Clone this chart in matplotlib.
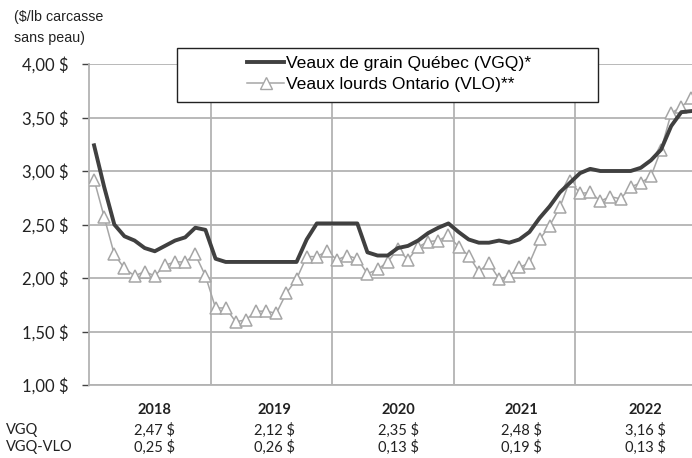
import numpy as np
import matplotlib
matplotlib.use('Agg')
from matplotlib import pyplot as plt
from matplotlib.lines import Line2D
from matplotlib.patches import Rectangle

# prix mensuels, janv. 2018 a dec. 2022 ($/lb carcasse sans peau)
vgq = [3.24, 2.85, 2.50, 2.39, 2.35, 2.28, 2.25, 2.30, 2.35, 2.38, 2.47, 2.45,
       2.18, 2.15, 2.15, 2.15, 2.15, 2.15, 2.15, 2.15, 2.15, 2.36, 2.51, 2.51,
       2.51, 2.51, 2.51, 2.24, 2.21, 2.21, 2.28, 2.30, 2.35, 2.42, 2.47, 2.51,
       2.43, 2.36, 2.33, 2.33, 2.35, 2.33, 2.36, 2.43, 2.56, 2.67, 2.80, 2.89,
       2.98, 3.02, 3.00, 3.00, 3.00, 3.00, 3.03, 3.10, 3.20, 3.42, 3.55, 3.56]
vlo = [2.92, 2.57, 2.22, 2.09, 2.02, 2.06, 2.02, 2.12, 2.15, 2.15, 2.22, 2.02,
       1.72, 1.72, 1.59, 1.61, 1.69, 1.69, 1.67, 1.86, 1.99, 2.20, 2.20, 2.25,
       2.17, 2.21, 2.18, 2.04, 2.08, 2.15, 2.27, 2.17, 2.29, 2.34, 2.35, 2.40,
       2.29, 2.21, 2.06, 2.14, 1.99, 2.02, 2.10, 2.14, 2.36, 2.49, 2.66, 2.91,
       2.79, 2.80, 2.72, 2.76, 2.74, 2.85, 2.89, 2.95, 3.20, 3.54, 3.60, 3.68]
annees = ['2018', '2019', '2020', '2021', '2022']
moy_vgq = ['2,47 $', '2,12 $', '2,35 $', '2,48 $', '3,16 $']
ecart = ['0,25 $', '0,26 $', '0,13 $', '0,19 $', '0,13 $']
yticks = [1.0, 1.5, 2.0, 2.5, 3.0, 3.5, 4.0]

W, H = 692, 458
grid_c = '#b3b3b3'
fig = plt.figure(figsize=(W/100, H/100), dpi=100)
ax = fig.add_axes([89/W, 1-385/H, (W-89)/W, (385-64)/H])
x = np.arange(len(vgq))
ax.set_xlim(-0.5, -0.5 + (W-89)/10.125)
ax.set_ylim(1, 4)

ax.set_yticks(yticks)
ax.set_yticklabels([('%.2f $' % v).replace('.', ',') for v in yticks],
                   fontfamily='Lato', fontsize=12, color='#222222')
ax.set_xticks([])
ax.tick_params(axis='y', length=5, width=1, color='#444444', pad=10)
ax.yaxis.grid(True, color=grid_c, lw=1.3)
ax.set_axisbelow(True)
for b in [11.5, 23.5, 35.5, 47.5]:
    ax.axvline(b, color=grid_c, lw=1.3, zorder=0.5)
for s in ['top', 'right']:
    ax.spines[s].set_visible(False)
ax.spines['left'].set_color(grid_c)
ax.spines['left'].set_linewidth(1.3)
ax.spines['bottom'].set_color(grid_c)
ax.spines['bottom'].set_linewidth(1.3)

ax.plot(x, vlo, color='#a6a6a6', lw=1.1, marker='^', markersize=8,
        markerfacecolor='white', markeredgecolor='#a6a6a6', markeredgewidth=1.1, zorder=3)
ax.plot(x, vgq, color='#404040', lw=2.8, zorder=4, solid_joinstyle='round')

fig.text(14/W, 1-17/H, '($/lb carcasse', fontfamily='Liberation Sans', fontsize=10.3,
         va='center', ha='left', color='#222222')
fig.text(14/W, 1-38/H, 'sans peau)', fontfamily='Liberation Sans', fontsize=10.3,
         va='center', ha='left', color='#222222')

# legende encadree
fig.patches.append(Rectangle((177/W, 1-102/H), (598-177)/W, (102-48)/H,
                             transform=fig.transFigure, facecolor='white',
                             edgecolor='#222222', lw=1.0, zorder=5))
handles = [Line2D([], [], color='#404040', lw=2.8),
           Line2D([], [], color='#a6a6a6', lw=1.1, marker='^', markersize=8,
                  markerfacecolor='white', markeredgecolor='#a6a6a6')]
labels = ['Veaux de grain Québec (VGQ)*', 'Veaux lourds Ontario (VLO)**']
leg = fig.legend(handles, labels, loc='center', bbox_to_anchor=(389/W, 1-74/H),
                 frameon=False, prop={'family': 'Liberation Sans', 'size': 12.6},
                 handlelength=2.1, handletextpad=0.1, labelspacing=0.3)
leg.set_zorder(6)

# tableau des moyennes annuelles
xs = [154, 274, 398, 521, 645]
for i in range(5):
    fig.text(xs[i]/W, 1-410/H, annees[i], fontfamily='Lato', fontweight='bold',
             fontsize=10.5, ha='center', va='center', color='#222222')
    fig.text(xs[i]/W, 1-430/H, moy_vgq[i], fontfamily='Lato',
             fontsize=10.5, ha='center', va='center', color='#222222')
    fig.text(xs[i]/W, 1-447/H, ecart[i], fontfamily='Lato',
             fontsize=10.5, ha='center', va='center', color='#222222')
fig.text(6/W, 1-430/H, 'VGQ', fontfamily='Lato', fontsize=10.5, va='center', color='#222222')
fig.text(6/W, 1-447/H, 'VGQ-VLO', fontfamily='Lato', fontsize=10.5, va='center', color='#222222')

fig.savefig('out.png', dpi=100)
